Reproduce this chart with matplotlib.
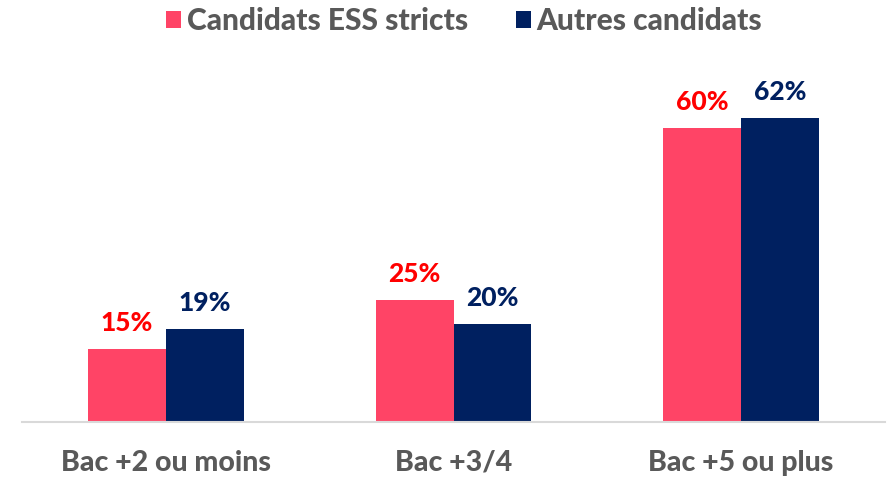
import matplotlib.pyplot as plt
import numpy as np

categories = ["Bac +2 ou moins", "Bac +3/4", "Bac +5 ou plus"]
series_names = ["Candidats ESS stricts", "Autres candidats"]
ess_values = [15, 25, 60]
other_values = [19, 20, 62]

PINK = "#FF4466"
NAVY = "#002060"
RED = "#FF0000"
GRAY = "#595959"

plt.rcParams["font.family"] = ["Lato", "DejaVu Sans"]
plt.rcParams["font.weight"] = "black"

fig = plt.figure(figsize=(8.96, 4.78), dpi=100)
ax = fig.add_axes([22 / 896, 1 - 422 / 478, 863 / 896, 343 / 478])

x = np.arange(len(categories))
w = 0.27
b1 = ax.bar(x - w / 2, ess_values, w, color=PINK, label=series_names[0])
b2 = ax.bar(x + w / 2, other_values, w, color=NAVY, label=series_names[1])

# value labels above each bar
for bars, vals, col in [(b1, ess_values, RED), (b2, other_values, NAVY)]:
    for rect, v in zip(bars, vals):
        ax.annotate(f"{v}%", (rect.get_x() + rect.get_width() / 2, v),
                    xytext=(0, 10), textcoords="offset points",
                    ha="center", va="bottom", color=col, fontsize=19,
                    fontweight="black")

ax.set_xlim(-0.5, 2.5)
ax.set_ylim(0, 70)
ax.set_xticks(x)
ax.set_xticklabels(categories, fontsize=20.5, fontweight="black", color=GRAY)
ax.tick_params(axis="x", length=0, pad=20)
ax.set_yticks([])
for s in ["top", "left", "right"]:
    ax.spines[s].set_visible(False)
ax.spines["bottom"].set_color("#D9D9D9")
ax.spines["bottom"].set_linewidth(1.5)

leg = fig.legend(loc="center", bbox_to_anchor=(464 / 896, 1 - 21 / 478), ncol=2,
                 frameon=False, fontsize=21.5, handlelength=0.5, handleheight=0.5,
                 handletextpad=0.2, columnspacing=1.6)
for t in leg.get_texts():
    t.set_color(GRAY)
    t.set_fontweight("black")

fig.savefig("out.png", dpi=100)
